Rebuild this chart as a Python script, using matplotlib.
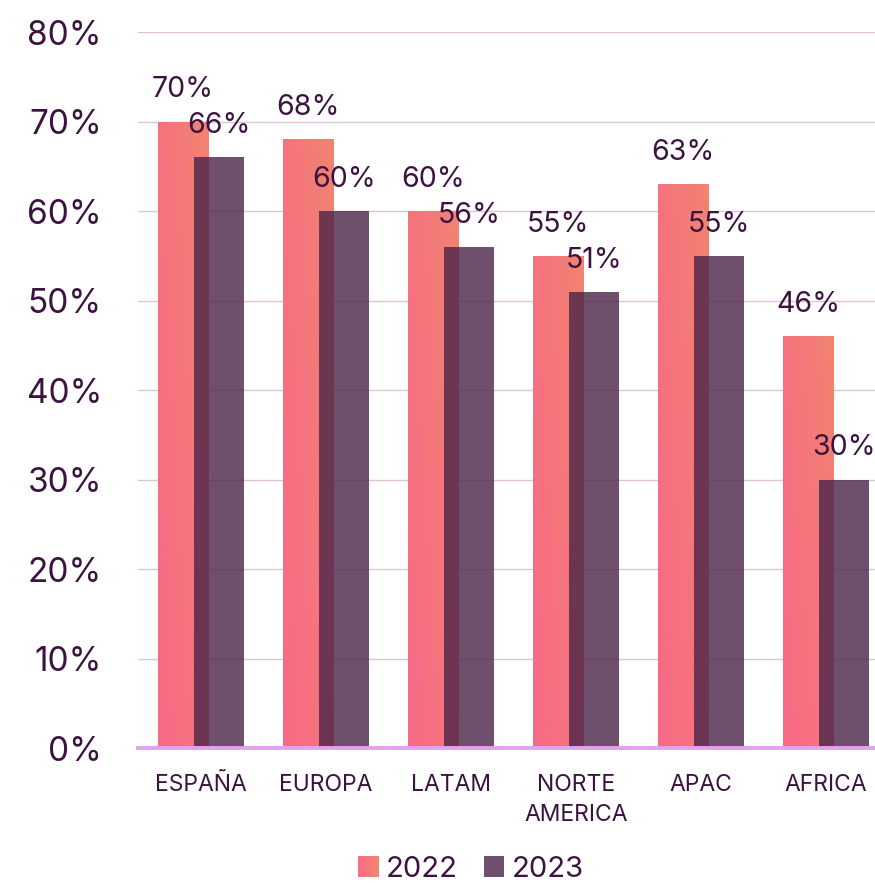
import numpy as np
import matplotlib
matplotlib.use("Agg")
import matplotlib.pyplot as plt
from matplotlib.patches import Rectangle
from matplotlib.legend_handler import HandlerBase
from matplotlib.colors import to_rgb

regions = ["ESPAÑA", "EUROPA", "LATAM", "NORTE\nAMERICA", "APAC", "AFRICA"]
values_2022 = [70, 68, 60, 55, 63, 46]
values_2023 = [66, 60, 56, 51, 55, 30]
y_ticks = [0, 10, 20, 30, 40, 50, 60, 70, 80]

TEXT = "#3b1240"
GRAD_LOW = np.array(to_rgb("#f86a86"))   # bottom-left of each 2022 bar
GRAD_HIGH = np.array(to_rgb("#f1846f"))  # top-right of each 2022 bar
PURPLE = "#4a2448"

plt.rcParams["font.family"] = ["Inter", "DejaVu Sans"]

fig = plt.figure(figsize=(8.75, 8.85), dpi=100)
ax = fig.add_axes([0.1577, 0.1548, 0.8423, 0.809])

x = np.arange(len(regions))
width = 0.4
off = 0.146


def gradient_image(n=64):
    u = np.linspace(0, 1, n)
    uu, vv = np.meshgrid(u, u)
    t = np.clip(0.6 * uu + 0.4 * vv, 0, 1) ** 1.2
    return GRAD_LOW[None, None, :] * (1 - t[..., None]) + GRAD_HIGH[None, None, :] * t[..., None]


grad = gradient_image()

bars22 = ax.bar(x - off, values_2022, width, color="none", edgecolor="none", zorder=2)
for b in bars22:
    x0, y0 = b.get_x(), b.get_y()
    w, h = b.get_width(), b.get_height()
    im = ax.imshow(grad, extent=[x0, x0 + w, y0, y0 + h], origin="lower",
                   aspect="auto", zorder=2, interpolation="bilinear")
    im.set_clip_path(b)

bars23 = ax.bar(x + off, values_2023, width, color=PURPLE, alpha=0.8,
                edgecolor="none", zorder=3)

for xi, v in zip(x - off, values_2022):
    ax.annotate(f"{v}%", (xi, v), xytext=(0, 13), textcoords="offset points",
                ha="center", va="bottom", fontsize=20.5, color=TEXT, zorder=5)
for xi, v in zip(x + off, values_2023):
    ax.annotate(f"{v}%", (xi, v), xytext=(0, 13), textcoords="offset points",
                ha="center", va="bottom", fontsize=20.5, color=TEXT, zorder=5)

ax.set_xlim(-0.504, 5.39)
ax.set_ylim(0, 80)
ax.set_yticks(y_ticks)
ax.set_yticklabels([f"{t}%" for t in y_ticks], fontsize=24, color=TEXT)
ax.set_xticks(x)
ax.set_xticklabels(regions, fontsize=16.5, color=TEXT, linespacing=1.45)
ax.tick_params(axis="y", length=0, pad=26)
ax.tick_params(axis="x", length=0, pad=19)

ax.grid(axis="y", color="#dcc6d2", linewidth=1, zorder=0)
ax.set_axisbelow(True)
for s in ["top", "right", "left"]:
    ax.spines[s].set_visible(False)
ax.spines["bottom"].set_color("#e4a2ec")
ax.spines["bottom"].set_linewidth(2.8)
ax.spines["bottom"].set_zorder(6)


class GradientSquare(HandlerBase):
    def create_artists(self, legend, orig_handle, xdescent, ydescent,
                       width, height, fontsize, trans):
        n = 12
        side = height
        x0 = -xdescent + (width - side)
        y0 = -ydescent
        arts = []
        for i in range(n):
            t = i / (n - 1)
            c = GRAD_LOW * (1 - t) + GRAD_HIGH * t
            arts.append(Rectangle((x0 + side * i / n, y0), side / n + 0.3, side,
                                  facecolor=c, edgecolor="none", transform=trans))
        return arts


class SolidSquare(HandlerBase):
    def create_artists(self, legend, orig_handle, xdescent, ydescent,
                       width, height, fontsize, trans):
        side = height
        return [Rectangle((-xdescent + (width - side), -ydescent), side, side,
                          facecolor=PURPLE, alpha=0.8, edgecolor="none",
                          transform=trans)]


h22 = Rectangle((0, 0), 1, 1)
h23 = Rectangle((0, 0), 1, 1)
leg = fig.legend([h22, h23], ["2022", "2023"], loc="center",
                 bbox_to_anchor=(0.538, 0.018), ncol=2, frameon=False,
                 fontsize=21, handlelength=0.7, handleheight=0.7,
                 handletextpad=0.25, columnspacing=0.9,
                 handler_map={h22: GradientSquare(), h23: SolidSquare()})
for t in leg.get_texts():
    t.set_color(TEXT)

fig.savefig("out.png", dpi=100, facecolor="white")
